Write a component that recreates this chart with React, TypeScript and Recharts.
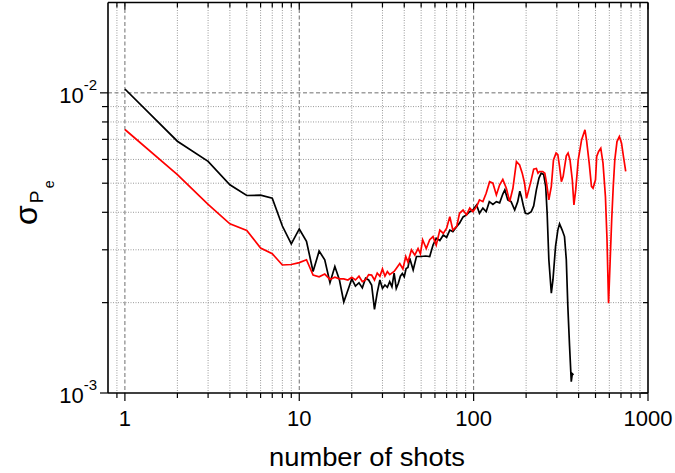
import React from 'react';
import { LineChart, Line, XAxis, YAxis, CartesianGrid, Label } from 'recharts';

const FONT = "'Liberation Sans', Arial, Helvetica, sans-serif";

const blackShots = [
  1, 2, 3, 4, 5, 6, 7, 8, 9, 10,
  11, 12, 13, 14, 15, 16, 17, 18, 19, 20,
  21, 22, 23, 24, 25, 26, 27, 28, 29, 30,
  31, 32, 33, 34, 35, 36, 37, 38, 39, 40,
  41, 42, 43, 45, 47, 50, 53, 56, 58.5, 61,
  64, 67, 70, 73, 76, 80, 83, 87, 91, 95,
  99, 104, 108, 113, 118, 123, 129, 135, 141, 147,
  151, 157, 164, 172, 179, 184, 188, 193, 198, 205,
  214, 221, 229, 237, 244, 252, 259, 264, 270, 279,
  285, 295, 304, 311, 322, 332, 340, 347, 355, 363,
  368, 374,
];
const blackSigma = [
  0.0103, 0.0069, 0.00591, 0.00494, 0.00455, 0.00456, 0.00446, 0.0036, 0.00314, 0.00352,
  0.0032, 0.00254, 0.00297, 0.00278, 0.00233, 0.00264, 0.00238, 0.00201, 0.0022, 0.0024,
  0.00227, 0.00233, 0.00224, 0.00241, 0.00238, 0.00229, 0.0019, 0.00216, 0.00238, 0.00223,
  0.00229, 0.00225, 0.00235, 0.00226, 0.00251, 0.00223, 0.00232, 0.00245, 0.0025, 0.00244,
  0.0026, 0.00262, 0.00281, 0.00257, 0.00285, 0.00285, 0.00286, 0.00285, 0.00311, 0.00328,
  0.00322, 0.00336, 0.0033, 0.00349, 0.00345, 0.00359, 0.00368, 0.00386, 0.00392, 0.00402,
  0.00407, 0.00423, 0.00397, 0.00413, 0.00402, 0.00434, 0.00425, 0.00434, 0.0043, 0.0046,
  0.00475, 0.0044, 0.00434, 0.00407, 0.00434, 0.0047, 0.0045, 0.0042, 0.00397, 0.00395,
  0.00402, 0.0042, 0.00475, 0.0052, 0.0054, 0.00535, 0.00488, 0.00397, 0.00278, 0.00215,
  0.00238, 0.00308, 0.00349, 0.00366, 0.00349, 0.00332, 0.00278, 0.00194, 0.00143, 0.00109,
  0.00116, 0.00115,
];

const redShots = [
  1, 2, 3, 4, 5, 6, 7, 8, 9, 10,
  11, 12, 13, 14, 15, 16, 17, 18, 19, 20,
  21, 22, 23, 24, 25, 26, 27, 28, 29, 30,
  31, 32, 33, 35, 36, 37.7, 39.3, 40.8, 42, 44,
  46, 48, 49.5, 51, 53.5, 56, 58.5, 61, 64, 67,
  70, 73, 76, 80, 83, 87, 91, 95, 99, 104,
  108, 113, 118, 123.5, 129, 135, 141, 147, 154, 161,
  168, 176, 183.5, 190, 196, 201, 207, 214, 221, 229,
  234, 239, 249, 256, 262, 270, 279, 287, 297, 304,
  311, 318.6, 326, 340, 348, 357, 368, 376, 385, 398,
  416, 435, 444, 460, 474, 484, 500, 508, 521, 536,
  552, 570, 582, 594, 607, 619, 632, 645, 664, 685,
  705, 723, 745,
];
const redSigma = [
  0.00755, 0.00534, 0.00425, 0.00366, 0.00348, 0.00304, 0.00291, 0.00267, 0.00268, 0.00272,
  0.00278, 0.00247, 0.00244, 0.00249, 0.00239, 0.00243, 0.0024, 0.0024, 0.00238, 0.00243,
  0.00238, 0.00245, 0.00235, 0.00238, 0.00248, 0.00247, 0.00238, 0.00251, 0.00245, 0.00259,
  0.00245, 0.00254, 0.00248, 0.00254, 0.0026, 0.0027, 0.00259, 0.00285, 0.00273, 0.003,
  0.00288, 0.00303, 0.00291, 0.00324, 0.00303, 0.00324, 0.00332, 0.00311, 0.00349, 0.0034,
  0.00354, 0.00387, 0.00349, 0.00359, 0.00397, 0.00407, 0.00392, 0.00413, 0.00402, 0.00418,
  0.0044, 0.00434, 0.00463, 0.00506, 0.005, 0.00457, 0.00494, 0.00515, 0.00481, 0.00434,
  0.00481, 0.0059, 0.00575, 0.0054, 0.005, 0.00445, 0.00475, 0.00513, 0.00557, 0.0056,
  0.0054, 0.00547, 0.00547, 0.0054, 0.005, 0.0044, 0.00488, 0.00598, 0.0063, 0.00622,
  0.00568, 0.00506, 0.00526, 0.00617, 0.0063, 0.00598, 0.00513, 0.00423, 0.00475, 0.00598,
  0.00697, 0.00753, 0.00697, 0.00583, 0.00488, 0.00481, 0.00513, 0.00614, 0.00638, 0.00654,
  0.00583, 0.00451, 0.00324, 0.00199, 0.00278, 0.00377, 0.00488, 0.00598, 0.00688, 0.00715,
  0.0068, 0.00614, 0.00547,
];

const majorX = [1, 10, 100, 1000];
const minorX = [0.9, 2, 3, 4, 5, 6, 7, 8, 9, 20, 30, 40, 50, 60, 70, 80, 90, 200, 300, 400, 500, 600, 700, 800, 900];
const majorY = [0.001, 0.01];
const minorY = [0.002, 0.003, 0.004, 0.005, 0.006, 0.007, 0.008, 0.009];

const allX = [...majorX, ...minorX].sort((a, b) => a - b);
const allY = [...majorY, ...minorY].sort((a, b) => a - b);

const blackData = blackShots.map((x, i) => ({ x, y: blackSigma[i] }));
const redData = redShots.map((x, i) => ({ x, y: redSigma[i] }));

const BottomTick = (props: any) => {
  const { x, y, payload } = props;
  const v = payload.value;
  const major = majorX.includes(v);
  return (
    <g>
      <line x1={x} x2={x} y1={y} y2={y + (major ? 8 : 5)} stroke="#000" strokeWidth={1.2} />
      {major && (
        <text x={x} y={y + 33} textAnchor="middle" fontSize={22} fontFamily={FONT} fill="#000">
          {String(v)}
        </text>
      )}
    </g>
  );
};

const TopTick = (props: any) => {
  const { x, y, payload } = props;
  const major = majorX.includes(payload.value);
  return <line x1={x} x2={x} y1={y} y2={y + (major ? 7 : 5)} stroke="#000" strokeWidth={1.2} />;
};

const LeftTick = (props: any) => {
  const { x, y, payload } = props;
  const v = payload.value;
  const major = majorY.includes(v);
  const exp = Math.round(Math.log10(v));
  return (
    <g>
      <line x1={x - (major ? 8 : 6)} x2={x} y1={y} y2={y} stroke="#000" strokeWidth={1.2} />
      {major && (
        <text x={x - 11} y={y + 10} textAnchor="end" fontSize={22} fontFamily={FONT} fill="#000">
          10
          <tspan dy={-13} fontSize={15}>{String(exp)}</tspan>
        </text>
      )}
    </g>
  );
};

const RightTick = (props: any) => {
  const { x, y, payload } = props;
  const major = majorY.includes(payload.value);
  return <line x1={x - (major ? 7 : 5)} x2={x} y1={y} y2={y} stroke="#000" strokeWidth={1.2} />;
};

const XTitle = () => (
  <text
    x={367}
    y={466}
    textAnchor="middle"
    fontSize={26}
    fontFamily={FONT}
    fill="#000"
    textLength={196}
    lengthAdjust="spacingAndGlyphs"
  >
    number of shots
  </text>
);

const YTitle = () => (
  <g transform="translate(36.5, 225) rotate(-90)" fontFamily={FONT} fill="#000">
    <text x={0} y={0} fontSize={32}>σ</text>
    <text x={21.7} y={6.6} fontSize={19}>P</text>
    <text x={36.7} y={17.3} fontSize={14}>e</text>
  </g>
);

const axisLine = { stroke: '#000', strokeWidth: 1.6 };

export default function App() {
  return (
    <div style={{ position: 'absolute', left: 0, top: 0, background: '#fff' }}>
      <LineChart width={675} height={473} margin={{ top: 1.5, right: 26, bottom: 50, left: 48 }}>
        <CartesianGrid
          verticalValues={minorX}
          horizontalValues={minorY}
          stroke="#9a9a9a"
          strokeDasharray="1 1.5"
        />
        <CartesianGrid
          verticalValues={[1, 10, 100]}
          horizontalValues={[0.01]}
          stroke="#6f6f6f"
          strokeDasharray="4 2.5"
        />
        <XAxis
          type="number"
          dataKey="x"
          scale="log"
          domain={[0.8, 1000]}
          allowDataOverflow
          ticks={allX}
          interval={0}
          tickSize={0}
          tickMargin={0}
          tickLine={false}
          height={30}
          axisLine={axisLine}
          tick={<BottomTick />}
        >
          <Label content={<XTitle />} />
        </XAxis>
        <XAxis
          xAxisId="top"
          orientation="top"
          type="number"
          dataKey="x"
          scale="log"
          domain={[0.8, 1000]}
          allowDataOverflow
          ticks={allX}
          interval={0}
          tickSize={0}
          tickMargin={0}
          tickLine={false}
          height={1}
          axisLine={axisLine}
          tick={<TopTick />}
        />
        <YAxis
          type="number"
          scale="log"
          domain={[0.001, 0.02]}
          allowDataOverflow
          ticks={allY}
          interval={0}
          tickSize={0}
          tickMargin={0}
          tickLine={false}
          width={60}
          axisLine={axisLine}
          tick={<LeftTick />}
        >
          <Label content={<YTitle />} />
        </YAxis>
        <YAxis
          yAxisId="right"
          orientation="right"
          type="number"
          scale="log"
          domain={[0.001, 0.02]}
          allowDataOverflow
          ticks={allY}
          interval={0}
          tickSize={0}
          tickMargin={0}
          tickLine={false}
          width={1}
          axisLine={axisLine}
          tick={<RightTick />}
        />
        <Line
          data={blackData}
          dataKey="y"
          type="linear"
          stroke="#000"
          strokeWidth={1.7}
          dot={false}
          isAnimationActive={false}
        />
        <Line
          data={redData}
          dataKey="y"
          type="linear"
          stroke="#ff0000"
          strokeWidth={1.7}
          dot={false}
          isAnimationActive={false}
        />
      </LineChart>
    </div>
  );
}
